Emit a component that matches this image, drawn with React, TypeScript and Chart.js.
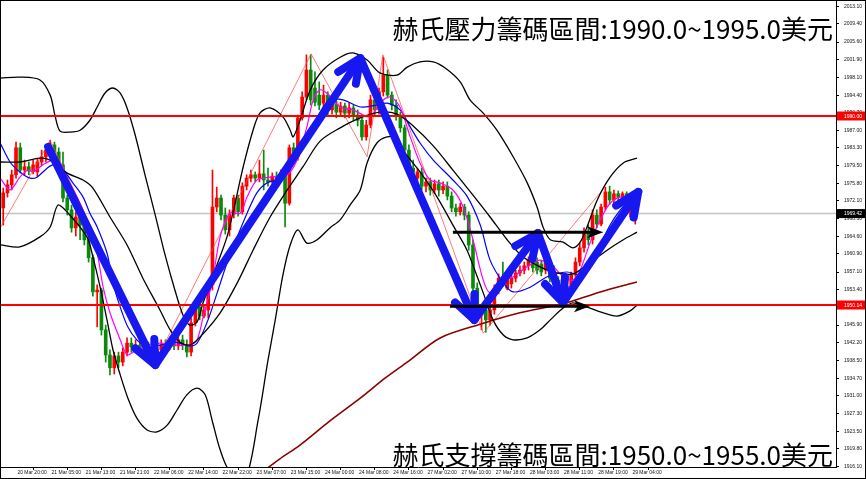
import React, { useEffect, useRef } from "react";
import { Chart, registerables } from "chart.js";

Chart.register(...registerables);

// ---------- axis ranges ----------
const FIRST_BAR = -3;
const X_MIN = -3.75;
const X_MAX = 192;
const Y_MIN = 1915.98;
const Y_MAX = 2014.46;
const BARS_PER_TICK = 8;

// ---------- candles (bar index FIRST_BAR .. 145) ----------
const opens = [
  1970.6, 1973.8, 1975.5, 1977.6, 1983.3, 1978.6, 1979.3, 1978.4, 1978.2, 1980.3,
  1981.4, 1982.8, 1983.9, 1982.4, 1979.7, 1972.7, 1970.2, 1966.4, 1968.7, 1967.0,
  1963.9, 1960.1, 1952.9, 1953.3, 1944.9, 1939.6, 1936.9, 1939.4, 1938.1, 1940.2,
  1942.1, 1941.3, 1941.7, 1940.7, 1941.5, 1940.2, 1939.0, 1940.7, 1941.7, 1941.3,
  1942.3, 1941.5, 1942.8, 1941.7, 1940.2, 1946.4, 1949.7, 1947.8, 1949.1, 1954.4,
  1970.8, 1972.7, 1969.1, 1966.0, 1969.3, 1972.7, 1969.8, 1975.2, 1976.9, 1977.6,
  1976.9, 1977.8, 1976.5, 1976.1, 1977.3, 1976.9, 1977.8, 1971.6, 1983.3, 1981.4,
  1989.6, 1994.0, 1999.7, 1995.9, 1994.4, 1992.7, 1994.4, 1991.3, 1992.5, 1990.8,
  1992.1, 1990.6, 1991.7, 1990.2, 1989.1, 1985.6, 1988.1, 1993.4, 1991.3, 1995.1,
  1998.6, 1994.4, 1992.3, 1990.2, 1987.5, 1982.8, 1979.0, 1976.9, 1978.2, 1975.2,
  1976.1, 1974.4, 1975.7, 1974.4, 1975.2, 1973.1, 1970.6, 1969.8, 1970.8, 1969.1,
  1962.8, 1953.7, 1948.0, 1949.1, 1947.0, 1949.1, 1953.3, 1955.8, 1953.7, 1954.6,
  1955.8, 1956.9, 1957.5, 1958.4, 1959.6, 1959.2, 1958.8, 1957.5, 1959.2, 1957.1,
  1955.4, 1953.7, 1952.0, 1954.1, 1956.5, 1959.2, 1962.2, 1965.5, 1963.9, 1969.1,
  1967.2, 1970.8, 1974.0, 1972.3, 1973.6, 1972.9, 1973.6, 1968.7, 1968.9,
];
const highs = [
  1974.8, 1976.5, 1978.6, 1984.5, 1984.3, 1980.7, 1980.3, 1980.7, 1981.1, 1982.8,
  1983.9, 1984.9, 1984.5, 1983.3, 1982.4, 1973.3, 1971.2, 1969.8, 1969.3, 1968.1,
  1964.7, 1960.7, 1954.4, 1953.7, 1945.9, 1940.7, 1940.2, 1940.2, 1941.1, 1943.2,
  1943.2, 1942.8, 1942.5, 1942.8, 1942.3, 1941.3, 1941.7, 1942.8, 1942.8, 1943.4,
  1943.2, 1943.6, 1943.8, 1942.8, 1947.4, 1950.6, 1950.6, 1950.1, 1955.0, 1978.6,
  1975.0, 1973.3, 1970.6, 1970.2, 1973.3, 1973.3, 1975.9, 1977.6, 1978.6, 1978.2,
  1980.7, 1982.8, 1979.0, 1978.0, 1978.2, 1978.6, 1978.6, 1983.9, 1984.3, 1990.2,
  1995.1, 2002.9, 2002.9, 1999.3, 1997.2, 1996.5, 1995.1, 1993.4, 1993.4, 1992.9,
  1992.7, 1992.9, 1992.3, 1991.3, 1990.2, 1989.1, 1994.4, 1994.0, 1995.9, 2002.4,
  1999.7, 1995.1, 1993.4, 1990.8, 1988.1, 1983.9, 1980.7, 1979.0, 1979.0, 1976.9,
  1976.9, 1976.5, 1976.5, 1976.1, 1976.1, 1974.0, 1971.4, 1971.6, 1971.4, 1969.8,
  1963.9, 1954.8, 1950.1, 1950.1, 1950.1, 1954.4, 1956.7, 1959.2, 1956.3, 1956.7,
  1957.5, 1958.4, 1959.2, 1960.3, 1960.5, 1960.1, 1959.6, 1960.1, 1960.1, 1958.4,
  1956.1, 1955.0, 1954.8, 1957.1, 1960.1, 1963.2, 1966.4, 1967.0, 1970.2, 1970.2,
  1971.4, 1975.0, 1975.2, 1974.4, 1974.2, 1974.0, 1974.0, 1972.3, 1970.2,
];
const lows = [
  1967.0, 1972.9, 1974.4, 1976.9, 1978.0, 1977.6, 1977.6, 1977.8, 1977.3, 1979.5,
  1980.3, 1981.8, 1981.6, 1978.6, 1971.9, 1969.1, 1965.5, 1964.7, 1963.9, 1962.8,
  1959.2, 1952.0, 1945.5, 1943.8, 1938.1, 1935.4, 1935.6, 1936.9, 1937.3, 1939.4,
  1940.2, 1940.2, 1939.4, 1939.4, 1939.0, 1937.7, 1937.7, 1939.6, 1940.2, 1940.7,
  1940.7, 1940.7, 1940.7, 1939.2, 1939.4, 1945.7, 1947.0, 1947.4, 1947.4, 1953.3,
  1969.8, 1968.1, 1965.1, 1964.7, 1968.5, 1968.9, 1969.3, 1974.4, 1976.1, 1976.1,
  1976.1, 1974.4, 1975.2, 1975.7, 1976.1, 1976.5, 1966.6, 1971.2, 1980.7, 1980.7,
  1989.1, 1993.4, 1992.3, 1992.1, 1991.3, 1991.7, 1990.2, 1990.4, 1989.6, 1990.0,
  1989.6, 1989.6, 1989.1, 1987.9, 1984.9, 1984.9, 1987.5, 1990.2, 1990.4, 1994.2,
  1993.8, 1991.3, 1989.1, 1986.6, 1981.8, 1978.2, 1976.9, 1975.5, 1974.4, 1974.0,
  1973.3, 1973.6, 1973.1, 1973.6, 1972.3, 1969.8, 1968.9, 1969.1, 1968.1, 1961.7,
  1952.9, 1947.0, 1944.9, 1944.4, 1945.9, 1948.2, 1952.5, 1954.1, 1953.3, 1953.7,
  1955.0, 1956.3, 1956.7, 1957.5, 1957.1, 1956.7, 1956.3, 1956.7, 1955.0, 1953.3,
  1952.0, 1951.2, 1951.2, 1953.3, 1955.4, 1958.4, 1961.3, 1962.8, 1963.0, 1966.4,
  1966.8, 1970.2, 1971.4, 1971.4, 1972.1, 1972.3, 1971.4, 1968.1, 1967.2,
];
const closes = [
  1973.8, 1975.5, 1977.6, 1983.3, 1978.6, 1979.3, 1978.4, 1979.7, 1980.3, 1981.4,
  1982.8, 1983.9, 1982.4, 1979.7, 1972.7, 1970.2, 1966.4, 1968.7, 1967.0, 1963.9,
  1960.1, 1952.9, 1953.3, 1944.9, 1939.6, 1936.9, 1939.4, 1938.1, 1940.2, 1942.1,
  1941.3, 1941.7, 1940.7, 1941.5, 1940.2, 1939.0, 1940.7, 1941.7, 1941.3, 1942.3,
  1941.5, 1942.8, 1941.7, 1940.2, 1946.4, 1949.7, 1947.8, 1949.1, 1954.4, 1970.8,
  1972.7, 1969.1, 1966.0, 1969.3, 1972.7, 1969.8, 1975.2, 1976.9, 1977.6, 1976.9,
  1977.8, 1976.5, 1976.1, 1977.3, 1976.9, 1977.8, 1971.6, 1983.3, 1981.4, 1989.6,
  1994.0, 1999.7, 1993.4, 1992.9, 1992.3, 1994.4, 1991.3, 1992.5, 1990.8, 1992.1,
  1990.6, 1991.7, 1990.2, 1989.1, 1985.6, 1988.1, 1993.4, 1991.3, 1995.1, 1998.6,
  1994.4, 1992.3, 1990.2, 1987.5, 1982.8, 1979.0, 1978.2, 1978.2, 1975.2, 1976.1,
  1974.4, 1975.7, 1974.4, 1975.2, 1973.1, 1970.6, 1969.8, 1970.8, 1969.1, 1962.8,
  1953.7, 1948.0, 1949.1, 1947.0, 1949.1, 1953.3, 1955.8, 1955.0, 1955.4, 1955.8,
  1956.9, 1957.5, 1958.4, 1959.6, 1958.0, 1957.5, 1957.1, 1959.2, 1955.8, 1954.4,
  1952.9, 1952.0, 1954.1, 1956.5, 1959.2, 1962.2, 1965.5, 1963.9, 1969.1, 1967.2,
  1970.8, 1974.0, 1972.3, 1973.6, 1972.9, 1973.6, 1972.3, 1971.6, 1969.5,
];

// ---------- axis ticks ----------
const yTickValues = [
  2013.1, 2009.4, 2005.6, 2001.9, 1998.1, 1994.4, 1990.7, 1987.0, 1983.3, 1979.5,
  1975.8, 1972.1, 1968.3, 1964.6, 1960.9, 1957.1, 1953.4, 1949.7, 1945.9, 1942.2,
  1938.5, 1934.7, 1931.0, 1927.3, 1923.5, 1919.8, 1916.1,
];
const xTickLabels = [
  "20 Mar 20:00", "21 Mar 05:00", "21 Mar 13:00", "21 Mar 21:00", "22 Mar 06:00",
  "22 Mar 14:00", "22 Mar 22:00", "23 Mar 07:00", "23 Mar 15:00", "24 Mar 00:00",
  "24 Mar 08:00", "24 Mar 16:00", "27 Mar 02:00", "27 Mar 10:00", "27 Mar 18:00",
  "28 Mar 03:00", "28 Mar 11:00", "28 Mar 19:00", "29 Mar 04:00",
];

// ---------- indicator lines [barIndex, price] ----------
const bbUpper = [
  [-3.7, 1998.0], [0.9, 1998.2], [5.6, 1997.6], [8.0, 1994.4], [9.1, 1990.2], [10.3, 1986.8],
  [12.6, 1986.6], [15.0, 1987.0], [17.3, 1989.1], [19.0, 1991.9], [20.8, 1994.8], [22.7, 1995.9],
  [24.4, 1994.8], [26.0, 1991.7], [27.9, 1986.0], [30.2, 1977.6], [32.6, 1969.1], [34.9, 1960.7],
  [37.2, 1953.3], [39.1, 1948.0], [40.7, 1945.9], [42.4, 1946.6], [43.8, 1950.6], [46.6, 1957.5],
  [49.4, 1964.5], [51.3, 1971.6], [53.2, 1979.3], [55.5, 1987.0], [57.1, 1990.6], [59.5, 1991.7],
  [62.5, 1989.8], [64.2, 1987.0], [64.9, 1985.6], [66.5, 1989.1], [68.9, 1995.5], [71.9, 1999.7],
  [75.9, 2002.4], [78.9, 2003.3], [82.2, 2001.8], [85.2, 1999.1], [89.2, 1998.6], [91.6, 2000.3],
  [94.6, 2001.4], [97.7, 2001.4], [100.5, 2000.1], [104.0, 1997.2], [106.3, 1993.4], [109.4, 1990.6],
  [112.6, 1987.0], [116.4, 1981.4], [119.7, 1975.9], [122.0, 1970.8], [123.4, 1966.6], [125.1, 1963.9],
  [128.1, 1963.4], [130.4, 1962.2], [132.1, 1963.4], [133.7, 1966.6], [136.1, 1972.3], [139.1, 1977.1],
  [142.2, 1980.1], [145.4, 1981.1],
];
const bbMiddle = [
  [-3.7, 1980.3], [0.9, 1980.3], [5.6, 1981.1], [8.0, 1980.7], [11.9, 1978.0], [15.7, 1976.5],
  [18.0, 1974.8], [22.0, 1968.7], [26.0, 1962.8], [29.7, 1955.8], [33.7, 1949.1], [36.1, 1944.9],
  [38.4, 1942.3], [40.7, 1941.7], [43.1, 1943.4], [47.8, 1948.5], [51.8, 1954.8], [55.5, 1961.7],
  [59.5, 1968.7], [63.5, 1974.4], [67.2, 1979.3], [71.2, 1984.7], [75.9, 1987.5], [80.6, 1989.6],
  [85.2, 1990.8], [89.2, 1990.4], [93.0, 1987.9], [97.7, 1983.7], [102.3, 1978.6], [107.0, 1973.3],
  [111.0, 1968.7], [115.0, 1963.9], [118.7, 1960.3], [122.7, 1958.2], [126.7, 1956.9], [130.4, 1956.7],
  [133.7, 1958.6], [138.4, 1961.7], [142.2, 1963.9], [145.4, 1965.5],
];
const bbLower = [
  [-3.7, 1962.8], [0.9, 1962.4], [5.6, 1964.5], [8.0, 1966.6], [9.8, 1971.2], [11.9, 1969.8],
  [16.6, 1964.5], [18.0, 1960.3], [19.7, 1953.9], [21.3, 1947.0], [22.7, 1940.7], [24.4, 1935.4],
  [26.2, 1930.5], [28.3, 1926.3], [30.7, 1923.8], [33.0, 1923.4], [35.4, 1924.8], [37.7, 1928.0],
  [40.0, 1931.2], [42.4, 1932.6], [44.3, 1931.2], [45.9, 1925.9], [47.8, 1919.6], [50.1, 1914.9],
  [53.6, 1913.2], [56.7, 1925.9], [59.0, 1938.5], [60.7, 1947.0], [62.5, 1956.5], [64.2, 1962.8],
  [66.0, 1966.0], [68.1, 1963.2], [70.5, 1963.9], [73.5, 1966.4], [75.9, 1968.1], [78.2, 1971.2],
  [80.6, 1974.4], [82.2, 1980.1], [84.5, 1984.3], [86.9, 1985.6], [89.2, 1985.4], [90.6, 1982.8],
  [94.6, 1978.2], [98.6, 1972.9], [102.3, 1967.0], [105.6, 1961.7], [108.0, 1956.1], [109.4, 1952.7],
  [111.7, 1947.0], [114.1, 1943.8], [116.4, 1942.8], [119.7, 1943.2], [122.7, 1944.9], [125.1, 1947.0],
  [128.1, 1949.5], [130.4, 1950.6], [133.7, 1949.7], [136.8, 1948.7], [140.7, 1947.8], [143.8, 1948.9],
  [145.4, 1950.1],
];
const maBlue = [
  [-3.7, 1984.3], [-1.4, 1980.3], [0.9, 1978.2], [3.3, 1976.9], [4.9, 1977.1], [7.3, 1979.0],
  [8.7, 1979.7], [11.0, 1978.6], [13.3, 1975.9], [15.7, 1972.9], [17.3, 1969.5], [19.0, 1966.6],
  [21.3, 1961.1], [22.7, 1954.8], [24.4, 1949.7], [26.2, 1945.5], [28.3, 1942.8], [30.7, 1941.3],
  [33.7, 1941.7], [37.2, 1942.3], [40.7, 1941.5], [42.4, 1942.1], [44.7, 1946.4], [47.1, 1952.7],
  [49.4, 1959.0], [51.8, 1964.5], [54.1, 1969.5], [56.4, 1973.8], [58.8, 1975.9], [62.5, 1976.9],
  [64.9, 1979.7], [68.1, 1984.9], [71.2, 1990.8], [73.5, 1993.4], [76.6, 1993.4], [80.6, 1991.9],
  [84.5, 1992.3], [86.9, 1992.7], [89.9, 1991.3], [92.3, 1987.7], [94.6, 1984.3], [97.7, 1980.7],
  [102.3, 1976.5], [105.6, 1973.1], [108.7, 1967.0], [111.0, 1959.6], [114.1, 1954.8], [116.4, 1952.9],
  [120.4, 1953.9], [124.4, 1956.1], [129.0, 1957.1], [132.1, 1956.5], [134.4, 1958.6], [136.8, 1962.8],
  [139.1, 1967.0], [141.5, 1970.2], [143.8, 1972.3], [145.4, 1972.9],
];
const maMagenta = [
  [-3.7, 1976.9], [-1.4, 1974.4], [0.9, 1977.1], [2.8, 1978.6], [4.0, 1978.2], [6.3, 1979.7],
  [8.7, 1980.7], [10.3, 1980.1], [11.9, 1977.1], [14.3, 1972.9], [16.6, 1968.1], [19.0, 1961.1],
  [20.4, 1953.9], [22.0, 1948.5], [24.4, 1942.8], [26.0, 1939.6], [27.4, 1940.2], [29.0, 1941.3],
  [33.7, 1942.1], [37.2, 1941.7], [40.7, 1941.7], [42.4, 1942.8], [43.8, 1947.6], [45.9, 1954.8],
  [47.8, 1964.5], [50.1, 1969.5], [52.5, 1969.5], [54.1, 1972.9], [56.4, 1976.5], [59.5, 1977.1],
  [63.5, 1977.6], [65.8, 1980.7], [68.1, 1987.7], [69.6, 1993.4], [71.2, 1995.5], [72.8, 1994.8],
  [75.9, 1991.9], [78.9, 1991.3], [82.9, 1989.8], [85.2, 1992.7], [87.6, 1994.0], [89.9, 1991.9],
  [92.3, 1985.6], [94.6, 1980.1], [97.0, 1976.5], [99.3, 1975.9], [102.3, 1974.4], [104.7, 1970.8],
  [107.0, 1963.9], [109.4, 1955.4], [111.0, 1952.7], [113.3, 1954.8], [116.4, 1956.1], [119.7, 1958.2],
  [122.7, 1959.6], [125.8, 1958.2], [128.1, 1956.1], [130.4, 1955.4], [132.1, 1957.5], [134.4, 1963.2],
  [136.8, 1968.1], [139.1, 1971.6], [141.5, 1972.9], [143.8, 1972.3], [145.4, 1970.8],
];
const maLong = [
  [57.6, 1914.9], [61.8, 1917.7], [66.5, 1920.6], [73.5, 1925.7], [80.6, 1930.5], [86.4, 1934.7],
  [91.6, 1938.1], [99.3, 1943.2], [108.7, 1946.1], [118.0, 1948.5], [128.1, 1950.4], [136.8, 1952.9],
  [145.4, 1955.0],
];
const zigzag = [
  [-3.7, 1966.4], [8.0, 1984.9], [32.6, 1938.1], [69.1, 2003.1], [82.2, 1981.4], [85.9, 2002.9],
  [109.4, 1944.2], [137.9, 1975.0],
];

// ---------- levels & annotations ----------
const resistanceLevel = 1990.0;
const supportLevel = 1950.14;
const lastPrice = 1969.42;
const levelLabels = [
  { value: resistanceLevel, text: "1990.00", bg: "#ff0000" },
  { value: lastPrice, text: "1969.42", bg: "#000000" },
  { value: supportLevel, text: "1950.14", bg: "#ff0000" },
];
// [fromBar, fromPrice, toBar, toPrice]
const blueArrows = [
  [7.5, 1983.5, 32.6, 1937.5],
  [32.6, 1937.5, 80.6, 2002.2],
  [80.6, 2002.2, 107.3, 1947.0],
  [107.3, 1947.0, 122.2, 1965.3],
  [122.2, 1965.3, 128.1, 1950.6],
  [128.1, 1950.6, 145.7, 1974.0],
];
const blackArrows = [
  [102.3, 1965.5, 137.5, 1965.5],
  [101.6, 1949.9, 134.4, 1949.9],
];
const resistanceText = "赫氏壓力籌碼區間:1990.0~1995.0美元";
const supportText = "赫氏支撐籌碼區間:1950.0~1955.0美元";

const UP_COLOR = "#ff0000";
const DOWN_COLOR = "#0a8a0a";
const TICK_FONT = { size: 5, family: "'Liberation Sans', Arial, sans-serif" };

const annotationPlugin = {
  id: "annotations",
  beforeDraw(chart: any) {
    const { ctx, width, height } = chart;
    ctx.save();
    ctx.fillStyle = "#ffffff";
    ctx.fillRect(0, 0, width, height);
    ctx.restore();
  },
  afterDatasetsDraw(chart: any) {
    const { ctx, chartArea: a } = chart;
    const xs = chart.scales.x;
    const ys = chart.scales.y;
    ctx.save();
    ctx.beginPath();
    ctx.rect(a.left, a.top, a.right - a.left, a.bottom - a.top);
    ctx.clip();

    // blue trend arrows
    ctx.strokeStyle = "#1717f0";
    ctx.lineWidth = 8;
    ctx.lineCap = "round";
    ctx.lineJoin = "round";
    blueArrows.forEach(([b1, p1, b2, p2]) => {
      const x1 = xs.getPixelForValue(b1);
      const y1 = ys.getPixelForValue(p1);
      const x2 = xs.getPixelForValue(b2);
      const y2 = ys.getPixelForValue(p2);
      ctx.beginPath();
      ctx.moveTo(x1, y1);
      ctx.lineTo(x2, y2);
      ctx.stroke();
      const ang = Math.atan2(y2 - y1, x2 - x1) + Math.PI;
      const L = 26;
      ctx.beginPath();
      ctx.moveTo(x2 + L * Math.cos(ang - 0.42), y2 + L * Math.sin(ang - 0.42));
      ctx.lineTo(x2, y2);
      ctx.lineTo(x2 + L * Math.cos(ang + 0.42), y2 + L * Math.sin(ang + 0.42));
      ctx.stroke();
    });

    // black horizontal arrows
    ctx.strokeStyle = "#000000";
    ctx.fillStyle = "#000000";
    ctx.lineWidth = 3;
    ctx.lineCap = "butt";
    blackArrows.forEach(([b1, p1, b2, p2]) => {
      const x1 = xs.getPixelForValue(b1);
      const y1 = ys.getPixelForValue(p1);
      const x2 = xs.getPixelForValue(b2);
      const y2 = ys.getPixelForValue(p2);
      ctx.beginPath();
      ctx.moveTo(x1, y1);
      ctx.lineTo(x2 - 10, y2);
      ctx.stroke();
      ctx.beginPath();
      ctx.moveTo(x2, y2);
      ctx.lineTo(x2 - 16, y2 - 6);
      ctx.lineTo(x2 - 12, y2);
      ctx.lineTo(x2 - 16, y2 + 6);
      ctx.closePath();
      ctx.fill();
    });
    ctx.restore();
  },
  afterDraw(chart: any) {
    const { ctx, width, height, chartArea: a } = chart;
    const ys = chart.scales.y;
    ctx.save();
    // price boxes on the axis
    levelLabels.forEach(({ value, text, bg }) => {
      const py = ys.getPixelForValue(value);
      ctx.fillStyle = bg;
      ctx.fillRect(a.right + 1, py - 4.5, width - a.right - 1, 9);
      ctx.fillStyle = "#ffffff";
      ctx.font = "5px 'Liberation Sans', Arial, sans-serif";
      ctx.textAlign = "left";
      ctx.textBaseline = "middle";
      ctx.fillText(text, a.right + 8, py + 0.5);
    });
    // big captions
    ctx.fillStyle = "#000000";
    ctx.font = "26px 'Noto Sans CJK TC', 'Noto Sans CJK SC', sans-serif";
    ctx.textAlign = "right";
    ctx.textBaseline = "middle";
    ctx.fillText(resistanceText, a.right - 3, 29);
    ctx.fillText(supportText, a.right - 3, 455);
    // frame
    ctx.strokeStyle = "#000000";
    ctx.lineWidth = 1;
    ctx.strokeRect(0.5, 0.5, width - 1, height - 1);
    ctx.restore();
  },
};

export default function App() {
  const ref = useRef<HTMLCanvasElement>(null);

  useEffect(() => {
    const canvas = ref.current;
    if (!canvas) return;
    const bars = opens.map((_, k) => FIRST_BAR + k);
    const colors = opens.map((o, k) => (closes[k] >= o ? UP_COLOR : DOWN_COLOR));
    const line = (pts: number[][], color: string, width: number, order: number, tension = 0.3) => ({
      type: "line" as const,
      data: pts.map(([x, y]) => ({ x, y })),
      borderColor: color,
      borderWidth: width,
      pointRadius: 0,
      tension,
      fill: false,
      order,
      clip: 0,
    });
    const hline = (y: number, color: string, width: number, order: number) => ({
      type: "line" as const,
      data: [{ x: X_MIN, y }, { x: X_MAX, y }],
      borderColor: color,
      borderWidth: width,
      pointRadius: 0,
      fill: false,
      order,
      clip: 0,
    });

    const chart = new Chart(canvas, {
      type: "bar",
      data: {
        datasets: [
          hline(resistanceLevel, "#ff0000", 2, 1),
          hline(supportLevel, "#ff0000", 2, 1),
          line(bbUpper, "#000000", 1.3, 2),
          line(bbMiddle, "#000000", 1.3, 2),
          line(bbLower, "#000000", 1.3, 2),
          line(maLong, "#8b0000", 1.6, 2),
          line(maMagenta, "#ff00ff", 1.2, 2),
          line(maBlue, "#0000ff", 1.2, 2),
          line(zigzag, "#ff4040", 0.7, 3, 0),
          {
            type: "bar" as const,
            data: bars.map((x, k) => ({ x, y: [Math.min(opens[k], closes[k]), Math.max(opens[k], closes[k])] })),
            backgroundColor: colors,
            barThickness: 3,
            minBarLength: 1,
            grouped: false,
            order: 4,
          },
          {
            type: "bar" as const,
            data: bars.map((x, k) => ({ x, y: [lows[k], highs[k]] })),
            backgroundColor: colors,
            barThickness: 1,
            grouped: false,
            order: 5,
          },
          hline(lastPrice, "#c4c4c4", 1.5, 6),
        ] as any,
      },
      options: {
        responsive: false,
        animation: false,
        devicePixelRatio: 1,
        events: [],
        layout: { padding: 0 },
        plugins: { legend: { display: false }, tooltip: { enabled: false } },
        scales: {
          x: {
            type: "linear",
            min: X_MIN,
            max: X_MAX,
            offset: false,
            grid: { drawOnChartArea: false, drawTicks: true, tickLength: 3, color: "#000000" },
            border: { display: true, color: "#000000" },
            ticks: {
              autoSkip: false,
              maxRotation: 0,
              minRotation: 0,
              align: "start",
              padding: 0,
              color: "#111111",
              font: TICK_FONT,
              callback: (v: any) => " " + (xTickLabels[Math.round(Number(v) / BARS_PER_TICK)] ?? ""),
            },
            afterBuildTicks: (s: any) => {
              s.ticks = xTickLabels.map((_, k) => ({ value: k * BARS_PER_TICK }));
            },
            afterFit: (s: any) => {
              s.height = 12;
              s.paddingLeft = 0;
              s.paddingRight = 0;
            },
          },
          y: {
            type: "linear",
            position: "right",
            min: Y_MIN,
            max: Y_MAX,
            grid: { drawOnChartArea: false, drawTicks: true, tickLength: 3, color: "#000000" },
            border: { display: true, color: "#000000" },
            ticks: {
              autoSkip: false,
              padding: 5,
              color: "#111111",
              font: TICK_FONT,
              callback: (v: any) => Number(v).toFixed(2),
            },
            afterBuildTicks: (s: any) => {
              s.ticks = yTickValues.map((value) => ({ value }));
            },
            afterFit: (s: any) => {
              s.width = 30;
              s.paddingTop = 0;
              s.paddingBottom = 0;
            },
          },
        },
      } as any,
      plugins: [annotationPlugin],
    });
    return () => chart.destroy();
  }, []);

  return (
    <div style={{ position: "absolute", left: 0, top: 0, width: 866, height: 479, background: "#fff" }}>
      <canvas ref={ref} width={866} height={479} style={{ display: "block", width: 866, height: 479 }} />
    </div>
  );
}
